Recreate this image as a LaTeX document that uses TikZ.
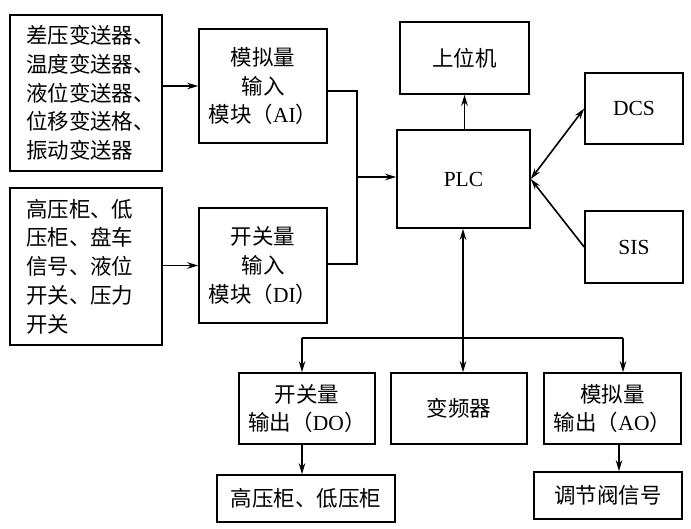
\documentclass[tikz,border=0pt]{standalone}
\usepackage{fontspec}
\setmainfont{Liberation Serif}
\newfontfamily\cjk{Noto Sans CJK SC}
\usetikzlibrary{arrows.meta}
\newcommand{\zh}[1]{{\cjk #1}}
\begin{document}
\begin{tikzpicture}[x=1pt,y=-1pt,
  box/.style={draw,line width=1.6pt,inner sep=0pt,align=center,
    font=\fontsize{21.5}{28.7}\selectfont},
  lbox/.style={box,align=left,text width=120pt},
  conn/.style={line width=1.6pt},
  tip/.tip={Stealth[length=11pt,width=6.5pt]},
  arr/.style={conn,-tip},
  arrb/.style={conn,tip-tip},
  arrr/.style={conn,tip-}]
\useasboundingbox (0,0) rectangle (691,528);
% boxes
\node[lbox,minimum width=152pt,minimum height=156pt] (src1) at (86,93)
  {\zh{差压变送器、}\\\zh{温度变送器、}\\\zh{液位变送器、}\\\zh{位移变送格、}\\\zh{振动变送器}};
\node[lbox,minimum width=152pt,minimum height=157pt] (src2) at (86,266.5)
  {\zh{高压柜、低}\\\zh{压柜、盘车}\\\zh{信号、液位}\\\zh{开关、压力}\\\zh{开关}};
\node[box,minimum width=128pt,minimum height=114pt] (ai) at (263,86)
  {\zh{模拟量}\\\zh{输入}\\\zh{模块（}AI\zh{）}};
\node[box,minimum width=128pt,minimum height=115pt] (di) at (263,265.5)
  {\zh{开关量}\\\zh{输入}\\\zh{模块（}DI\zh{）}};
\node[box,minimum width=129pt,minimum height=72pt] (host) at (464.5,58) {\zh{上位机}};
\node[box,minimum width=133pt,minimum height=98pt] (plc) at (463.5,179) {PLC};
\node[box,minimum width=98pt,minimum height=71pt] (dcs) at (634,108.5) {DCS};
\node[box,minimum width=98pt,minimum height=72pt] (sis) at (634,247) {SIS};
\node[box,minimum width=136pt,minimum height=71pt] (do) at (307,408.5)
  {\zh{开关量}\\\zh{输出（}DO\zh{）}};
\node[box,minimum width=136pt,minimum height=71pt] (vfd) at (459,408.5) {\zh{变频器}};
\node[box,minimum width=137pt,minimum height=71pt] (ao) at (612.5,408.5)
  {\zh{模拟量}\\\zh{输出（}AO\zh{）}};
\node[box,minimum width=178pt,minimum height=47pt] (hv) at (306,498.5) {\zh{高压柜、低压柜}};
\node[box,minimum width=148pt,minimum height=47pt] (valve) at (608,495.5) {\zh{调节阀信号}};
% connectors
\draw[arr] (src1.east |- ai.west) -- (ai.west);
\draw[arr] (src2.east |- di.west) -- (di.west);
\coordinate (bus) at (357,177);
\coordinate (aiout) at ([yshift=-5pt]ai.east);
\coordinate (diout) at ([yshift=1.5pt]di.east);
\draw[conn] (aiout) -| (bus);
\draw[conn] (diout) -| (bus);
\draw[arr] (bus) -- (plc.west |- bus);
\draw[arr] (host.south |- plc.north) -- (host.south);
\draw[arrb] (plc.east) -- (dcs.west);
\draw[arrr] (plc.east) -- (sis.west);
\coordinate (split) at (463,338);
\coordinate (dl) at (302,338);
\coordinate (ar) at (623,338);
\draw[arrb] (split |- plc.south) -- (split |- vfd.north);
\draw[conn] (dl) -- (ar);
\draw[arr] (dl) -- (dl |- do.north);
\draw[arr] (ar) -- (ar |- ao.north);
\draw[arr] (dl |- do.south) -- (dl |- hv.north);
\coordinate (aol) at (619,444);
\draw[arr] (aol) -- (aol |- valve.north);
\end{tikzpicture}
\end{document}
